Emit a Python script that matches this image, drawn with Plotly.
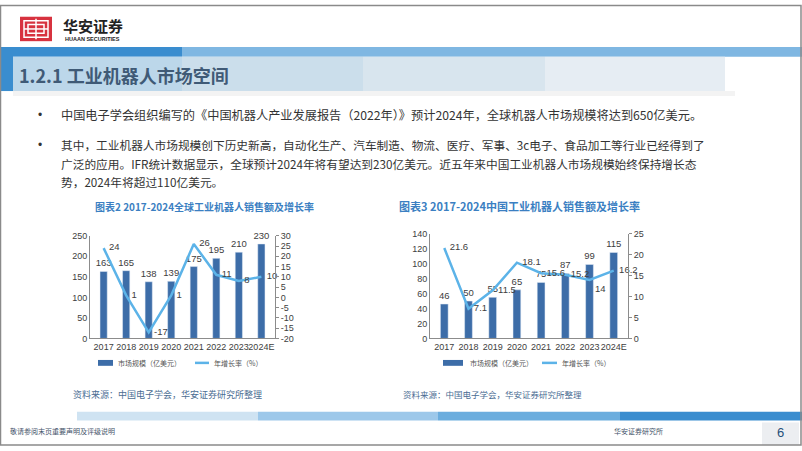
import plotly.graph_objects as go

W, H = 802, 451

years = ["2017", "2018", "2019", "2020", "2021", "2022", "2023", "2024E"]
global_size = [163, 165, 138, 139, 175, 195, 210, 230]
global_growth = [24, 1, -17, 1, 26, 11, 8, 10]
china_size = [46, 50, 55, 65, 75, 87, 99, 115]
china_growth = [21.6, 7.1, 11.5, 18.1, 15.6, 15.2, 14, 16.2]

global_growth_ticks = [-20, -15, -10, -5, 0, 5, 10, 15, 20, 25, 30]

global_growth_pos = ["middle right"] * 8
china_growth_pos = ["middle right", "middle right", "middle right", "middle right",
                    "middle right", "middle right", "bottom right", "middle right"]

BAR = "#3d6da8"
LINE = "#5cb3e8"
TXT = "#404040"
FONT = "Liberation Sans, Arial, sans-serif"
CJK = "Noto Sans CJK SC, sans-serif"


def fx(px):
    return px / W


def fy(py):
    return 1 - py / H


fig = go.Figure()

lblf = dict(size=9.5, color=TXT, family=FONT)
hidden_marker = dict(size=7, color="rgba(0,0,0,0)")
# Chart 1 (global)
fig.add_trace(go.Bar(x=years, y=global_size, xaxis="x", yaxis="y", width=0.32,
                     marker_color=BAR, text=[str(v) for v in global_size],
                     textposition="outside", cliponaxis=False, constraintext="none",
                     textfont=lblf, showlegend=False))
fig.add_trace(go.Scatter(x=years, y=global_growth, xaxis="x", yaxis="y2",
                         mode="lines+markers+text", marker=hidden_marker,
                         line=dict(color=LINE, width=2.5), text=[str(v) for v in global_growth],
                         textposition=global_growth_pos, cliponaxis=False,
                         textfont=lblf, showlegend=False))
# Chart 2 (China)
fig.add_trace(go.Bar(x=years, y=china_size, xaxis="x2", yaxis="y3", width=0.32,
                     marker_color=BAR, text=[str(v) for v in china_size],
                     textposition="outside", cliponaxis=False, constraintext="none",
                     textfont=lblf, showlegend=False))
fig.add_trace(go.Scatter(x=years, y=china_growth, xaxis="x2", yaxis="y4",
                         mode="lines+markers+text", marker=hidden_marker,
                         line=dict(color=LINE, width=2.5), text=[str(v) for v in china_growth],
                         textposition=china_growth_pos, cliponaxis=False,
                         textfont=lblf, showlegend=False))

tickf = dict(size=9, color=TXT, family=FONT)
axcommon = dict(showgrid=False, zeroline=False, showline=True, linecolor="#8c8c8c",
                linewidth=1, tickfont=tickf)

fig.update_layout(
    width=W, height=H, margin=dict(l=0, r=0, t=0, b=0),
    paper_bgcolor="white", plot_bgcolor="white",
    xaxis=dict(domain=[fx(90), fx(275)], anchor="y", ticks="", tickangle=0, **axcommon),
    yaxis=dict(domain=[fy(341), fy(236)], range=[0, 250], dtick=50, anchor="x",
               ticks="", **axcommon),
    yaxis2=dict(overlaying="y", side="right", range=[-20, 30],
                tickmode="array", tickvals=global_growth_ticks,
                ticktext=[str(v) for v in global_growth_ticks], anchor="x",
                ticks="outside", ticklen=3, tickcolor="#8c8c8c", **axcommon),
    xaxis2=dict(domain=[fx(430), fx(628)], anchor="y3", ticks="", tickangle=0, **axcommon),
    yaxis3=dict(domain=[fy(341), fy(234)], range=[0, 140], dtick=20, anchor="x2",
                ticks="", **axcommon),
    yaxis4=dict(overlaying="y3", side="right", range=[0, 25], dtick=5, anchor="x2",
                ticks="outside", ticklen=3, tickcolor="#8c8c8c", **axcommon),
)

shapes = []
ann = []


def rect(x0, y0, x1, y1, color, line=None, layer="below"):
    shapes.append(dict(type="rect", xref="paper", yref="paper", x0=fx(x0), x1=fx(x1),
                       y0=fy(y1), y1=fy(y0), fillcolor=color,
                       line=dict(width=0) if line is None else line, layer=layer))


def text(x, y, s, size, color="#333333", anchor="left", family=CJK, bold=False):
    if bold:
        s = "<b>" + s + "</b>"
    ann.append(dict(x=fx(x), y=fy(y), xref="paper", yref="paper", text=s, showarrow=False,
                    xanchor=anchor, yanchor="middle",
                    font=dict(size=size, color=color, family=family)))


# Header logo
rect(20, 12, 52, 37, "#d7323f")
rect(24, 16, 48, 33, "rgba(0,0,0,0)", line=dict(color="white", width=1.5))
rect(28, 20, 44, 29, "rgba(0,0,0,0)", line=dict(color="white", width=1.5))
shapes.append(dict(type="line", xref="paper", yref="paper", x0=fx(36), x1=fx(36),
                   y0=fy(14), y1=fy(35), line=dict(color="white", width=1.5)))
shapes.append(dict(type="line", xref="paper", yref="paper", x0=fx(24), x1=fx(48),
                   y0=fy(24.5), y1=fy(24.5), line=dict(color="white", width=1.5)))
text(61, 21, "华安证券", 15, "#222222", bold=True)
text(63, 35, "HUAAN SECURITIES", 5.5, "#222222", family=FONT, bold=True)

# Title bar
rect(0, 43, 182, 53, "#3a8dcf")
rect(182, 43, 802, 53, "#7fb7e2")
rect(0, 43, 13, 88, "#3a8dcf")
rect(13, 53, 182, 88, "#bcd7ea")
rect(182, 53, 363, 88, "#cbdeeb")
rect(363, 53, 545, 88, "#d8e5ee")
rect(545, 53, 725, 88, "#e6edf3")
rect(13, 88, 735, 93, "#f3f3f3")
text(17, 72, "1.2.1 工业机器人市场空间", 18, "#3f5a76", bold=True)

# Bullets
text(36, 113, "•", 12, "#333333", family=FONT)
text(36, 143, "•", 12, "#333333", family=FONT)
text(59, 113, "中国电子学会组织编写的《中国机器人产业发展报告（2022年）》预计2024年，全球机器人市场规模将达到650亿美元。", 12.2)
text(59, 143, "其中，工业机器人市场规模创下历史新高，自动化生产、汽车制造、物流、医疗、军事、3c电子、食品加工等行业已经得到了", 11.7)
text(59, 162, "广泛的应用。IFR统计数据显示，全球预计2024年将有望达到230亿美元。近五年来中国工业机器人市场规模始终保持增长态", 11.7)
text(59, 180, "势，2024年将超过110亿美元。", 11.7)

# Chart titles
text(93, 206, "图表2 2017-2024全球工业机器人销售额及增长率", 10, "#3b7fc2", bold=True)
text(397, 206, "图表3 2017-2024中国工业机器人销售额及增长率", 11, "#3b7fc2", bold=True)

# Legends (manual)
for (rx0, rx1, t1x, lx0, lx1, t2x) in [(98, 113, 116, 195, 209, 212),
                                        (443, 463, 468, 542, 557, 560)]:
    rect(rx0, 363, rx1, 369, BAR)
    shapes.append(dict(type="line", xref="paper", yref="paper", x0=fx(lx0), x1=fx(lx1),
                       y0=fy(366), y1=fy(366), line=dict(color=LINE, width=2.5)))
    text(t1x, 366, "市场规模（亿美元）", 7, "#555555")
    text(t2x, 366, "年增长率（%）", 7, "#555555")

# Sources
text(71, 398, "资料来源：中国电子学会，华安证券研究所整理", 9, "#4b6d93")
text(401, 398, "资料来源：中国电子学会，华安证券研究所整理", 8.5, "#4b6d93")

# Footer band
rect(77, 416, 258, 425, "#cfe3f2")
rect(258, 416, 438, 425, "#9dc8ea")
rect(438, 416, 620, 425, "#6badde")
rect(620, 416, 802, 425, "#3a8dcf")
rect(762, 427, 799, 450, "#eceef1")
text(8, 436, "敬请参阅末页重要声明及评级说明", 7, "#44546a")
text(612, 436, "华安证券研究所", 7, "#44546a")
text(780, 437, "6", 13, "#1f4e79", anchor="center", family=FONT)

# Slide border
rect(0.5, 0.5, 801, 450, "rgba(0,0,0,0)", line=dict(color="#8a8a8a", width=1.5), layer="above")

fig.update_layout(shapes=shapes, annotations=ann)
fig.write_html("out.html")
